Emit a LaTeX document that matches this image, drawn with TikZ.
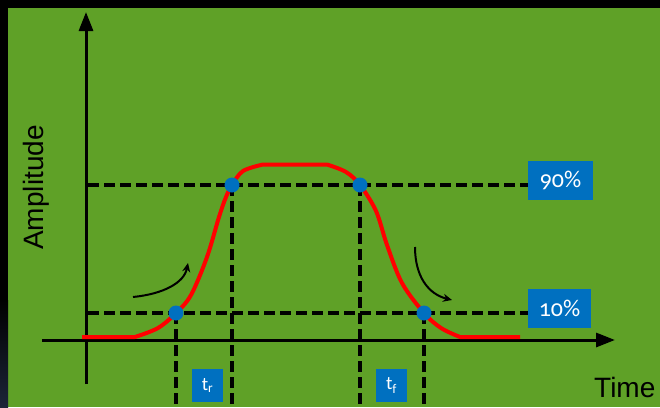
\documentclass[tikz,border=0pt]{standalone}
\usepackage{fontspec}
\setmainfont{Liberation Sans}
\newfontfamily\boxfont{Carlito}[Numbers=OldStyle]
\usetikzlibrary{arrows.meta}
\definecolor{bggreen}{HTML}{5FA127}
\definecolor{boxblue}{HTML}{0070C0}
\definecolor{edgenavy}{RGB}{28,36,56}
\begin{document}
\begin{tikzpicture}[x=1pt,y=-1pt,
  axis/.style={line width=3pt,-{Triangle[length=19pt,width=14pt]}},
  guide/.style={line width=3.3pt,dash pattern=on 11pt off 5pt},
  lbl/.style={fill=boxblue,text=white,font=\boxfont\fontsize{24}{26}\selectfont,inner sep=0pt,minimum height=39pt},
  tlbl/.style={fill=boxblue,text=white,font=\boxfont\fontsize{19}{21}\selectfont,inner sep=0pt,minimum width=31pt,minimum height=33pt},
  dotnode/.style={circle,fill=boxblue,minimum size=15pt,inner sep=0pt},
  signal/.style={red,line width=4pt,line join=round},
  hint/.style={line width=2pt,-{Stealth[length=9pt,width=8pt]}}]
\useasboundingbox (0,0) rectangle (660,407);
\fill[bggreen] (0,0) rectangle (660,407);
\fill[black] (0,0) rectangle (660,8);
\fill[black] (0,0) rectangle (8,300);
\shade[top color=black,bottom color=edgenavy] (0,300) rectangle (8,407);

% labels
\node[lbl,minimum width=65pt] (l90) at (560.5,180.5) {90\%};
\node[lbl,minimum width=63pt] (l10) at (559.5,308.5) {10\%};
\node[tlbl] (tr) at (207.5,385.5) {t\textsubscript{r}};
\node[tlbl] (tf) at (391.5,385.5) {t\textsubscript{f}};
\node[anchor=base west,font=\fontsize{28}{30}\selectfont,inner sep=0pt] (time) at (594,397) {Time};
\node[anchor=base,rotate=90,font=\fontsize{28}{30}\selectfont,inner sep=0pt] (amp) at (43,187.5) {Amplitude};

% key points
\coordinate (p1) at (176,313);
\coordinate (p2) at (232,185);
\coordinate (p3) at (360,185);
\coordinate (p4) at (424,313);
\coordinate (s90) at (88,185);
\coordinate (s10) at (88,313);

% guides
\draw[guide] (s90) -- (l90.west |- s90);
\draw[guide] (s10) -- (l10.west |- s10);
\foreach \p in {p1,p2,p3,p4}{
  \draw[guide] (\p) -- (\p |- 0,407);
}

% axes
\coordinate (yb) at (86,384);
\coordinate (yt) at (86,12);
\coordinate (xl) at (42,340);
\coordinate (xr) at (615,340);
\draw[axis] (yb) -- (yt);
\draw[axis] (xl) -- (xr);

% signal
\draw[signal] (82,337) -- (135,337)
  plot[smooth,tension=0.55] coordinates {(135,337) (158,328) (176,313) (191,295) (207,257) (219,217) (226,197) (232,185) (243,171) (263,164.5)}
  -- (327,164.5)
  plot[smooth,tension=0.55] coordinates {(327,164.5) (346,172) (360,185) (376,211) (387,245) (402,283) (424,313) (441,328) (460,337)}
  -- (520,337);

% dots
\foreach \p in {p1,p2,p3,p4}{
  \node[dotnode] at (\p) {};
}

% hint arrows
\coordinate (ra) at (133,297);
\coordinate (rb) at (188,263);
\coordinate (fa) at (415,247);
\coordinate (fb) at (452,300);
\draw[hint] (ra) .. controls (163,294) and (184,283) .. (rb);
\draw[hint] (fa) .. controls (415,276) and (428,294) .. (fb);
\end{tikzpicture}
\end{document}
